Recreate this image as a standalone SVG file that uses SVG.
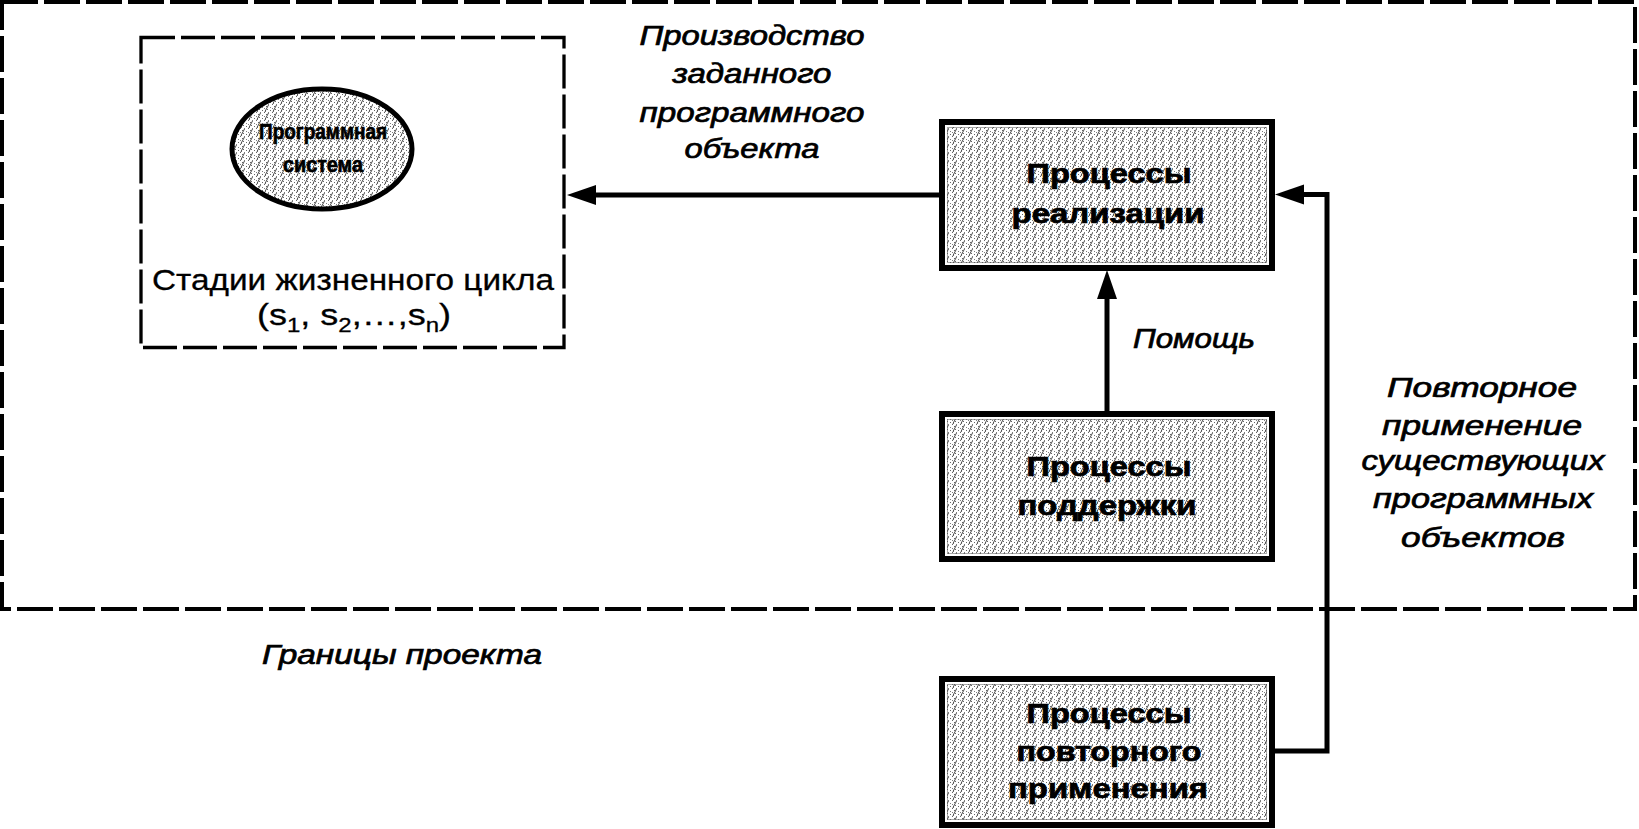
<svg xmlns="http://www.w3.org/2000/svg" width="1639" height="829" viewBox="0 0 1639 829">
<style>
.bd{fill:none;stroke:#000;stroke-width:4;stroke-dasharray:36 6}
.bi{fill:none;stroke:#000;stroke-width:3.3;stroke-dasharray:34 6}
.box{fill:url(#tex);stroke:#000;stroke-width:6}
.inn{fill:none;stroke:#fff;stroke-width:2}
.dot{fill:none;stroke:#555;stroke-width:1;stroke-dasharray:1 1}
.bt{font-family:"Liberation Sans",Arial,sans-serif;font-weight:bold;font-size:27px;text-anchor:middle;fill:#000;stroke:#000;stroke-width:0.7}
.et{font-family:"Liberation Sans",Arial,sans-serif;font-weight:bold;font-size:22px;text-anchor:middle;fill:#000;stroke:#000;stroke-width:0.7}
.lb{font-family:"Liberation Sans",Arial,sans-serif;font-style:italic;font-size:27px;text-anchor:middle;fill:#000;stroke:#000;stroke-width:0.7}
.rt{font-family:"Liberation Sans",Arial,sans-serif;font-size:30px;text-anchor:middle;fill:#000;stroke:#000;stroke-width:0.3}
.cn{fill:none;stroke:#000;stroke-width:5}
</style>
<defs>
<pattern id="tex" width="8" height="8" patternUnits="userSpaceOnUse">
<rect width="8" height="8" fill="#fff"/>
<rect x="0" y="0" width="1" height="1" fill="#000" opacity="0.6"/>
<rect x="4" y="0" width="1" height="1" fill="#000" opacity="0.5"/>
<rect x="2" y="2" width="1" height="1" fill="#000" opacity="0.6"/>
<rect x="6" y="3" width="1" height="1" fill="#000" opacity="0.5"/>
<rect x="0" y="4" width="1" height="1" fill="#000" opacity="0.5"/>
<rect x="3" y="5" width="1" height="1" fill="#000" opacity="0.6"/>
<rect x="6" y="6" width="1" height="1" fill="#000" opacity="0.6"/>
<rect x="1" y="7" width="1" height="1" fill="#000" opacity="0.5"/>
<path d="M1,7.5 L4.5,1" stroke="#000" stroke-width="1" opacity="0.7"/>
</pattern>
<marker id="ah" markerUnits="userSpaceOnUse" markerWidth="30" markerHeight="22" refX="0" refY="11" orient="auto" viewBox="0 0 30 22">
<path d="M0,1 L29,11 L0,21 Z" fill="#000"/>
</marker>
</defs>

<g id="project-boundary">
<rect class="bd" x="2" y="2" width="1633" height="607"/>
<text class="lb" x="402" y="664" textLength="280" lengthAdjust="spacingAndGlyphs">Границы проекта</text>
</g>

<g id="lifecycle">
<rect class="bi" x="141" y="37.5" width="423" height="310"/>
<text class="rt" x="353" y="290" textLength="402" lengthAdjust="spacingAndGlyphs">Стадии жизненного цикла</text>
<text class="rt" transform="translate(354,325) scale(1.2,1)" x="0" y="0">(s<tspan font-size="20" dy="7">1</tspan><tspan dy="-7">, s</tspan><tspan font-size="20" dy="7">2</tspan><tspan dy="-7">,…,s</tspan><tspan font-size="20" dy="7">n</tspan><tspan dy="-7">)</tspan></text>
</g>

<g id="software-system">
<ellipse cx="322" cy="149" rx="90" ry="60" fill="url(#tex)" stroke="#000" stroke-width="5"/>
<text class="et" x="323" y="139" textLength="128" lengthAdjust="spacingAndGlyphs">Программная</text>
<text class="et" x="323" y="172" textLength="80" lengthAdjust="spacingAndGlyphs">система</text>
</g>

<g id="realization">
<rect class="box" x="942" y="122" width="330" height="146"/>
<rect class="inn" x="946" y="126" width="322" height="138"/>
<rect class="dot" x="947.5" y="127.5" width="319" height="135"/>
<text class="bt" x="1109" y="183" textLength="165" lengthAdjust="spacingAndGlyphs">Процессы</text>
<text class="bt" x="1108" y="223" textLength="193" lengthAdjust="spacingAndGlyphs">реализации</text>
</g>

<g id="support">
<rect class="box" x="942" y="414" width="330" height="145"/>
<rect class="inn" x="946" y="418" width="322" height="137"/>
<rect class="dot" x="947.5" y="419.5" width="319" height="134"/>
<text class="bt" x="1109" y="476" textLength="165" lengthAdjust="spacingAndGlyphs">Процессы</text>
<text class="bt" x="1107" y="515" textLength="179" lengthAdjust="spacingAndGlyphs">поддержки</text>
</g>

<g id="reuse">
<rect class="box" x="942" y="679" width="330" height="146"/>
<rect class="inn" x="946" y="683" width="322" height="138"/>
<rect class="dot" x="947.5" y="684.5" width="319" height="135"/>
<text class="bt" x="1109" y="723" textLength="165" lengthAdjust="spacingAndGlyphs">Процессы</text>
<text class="bt" x="1109" y="761" textLength="185" lengthAdjust="spacingAndGlyphs">повторного</text>
<text class="bt" x="1108" y="798" textLength="200" lengthAdjust="spacingAndGlyphs">применения</text>
</g>

<g id="connectors">
<path class="cn" d="M939,195 H596" marker-end="url(#ah)"/>
<path class="cn" d="M1107,411 V299" marker-end="url(#ah)"/>
<path class="cn" d="M1275,751 H1327 V194.5 H1304" marker-end="url(#ah)"/>
<text class="lb" x="752" y="45" textLength="225" lengthAdjust="spacingAndGlyphs">Производство</text>
<text class="lb" x="752" y="83" textLength="159" lengthAdjust="spacingAndGlyphs">заданного</text>
<text class="lb" x="752" y="122" textLength="225" lengthAdjust="spacingAndGlyphs">программного</text>
<text class="lb" x="752" y="158" textLength="135" lengthAdjust="spacingAndGlyphs">объекта</text>
<text class="lb" x="1194" y="348" textLength="122" lengthAdjust="spacingAndGlyphs">Помощь</text>
<text class="lb" x="1482" y="397" textLength="190" lengthAdjust="spacingAndGlyphs">Повторное</text>
<text class="lb" x="1482" y="435" textLength="200" lengthAdjust="spacingAndGlyphs">применение</text>
<text class="lb" x="1483" y="470" textLength="243" lengthAdjust="spacingAndGlyphs">существующих</text>
<text class="lb" x="1483" y="508" textLength="220" lengthAdjust="spacingAndGlyphs">программных</text>
<text class="lb" x="1483" y="547" textLength="164" lengthAdjust="spacingAndGlyphs">объектов</text>
</g>
</svg>
